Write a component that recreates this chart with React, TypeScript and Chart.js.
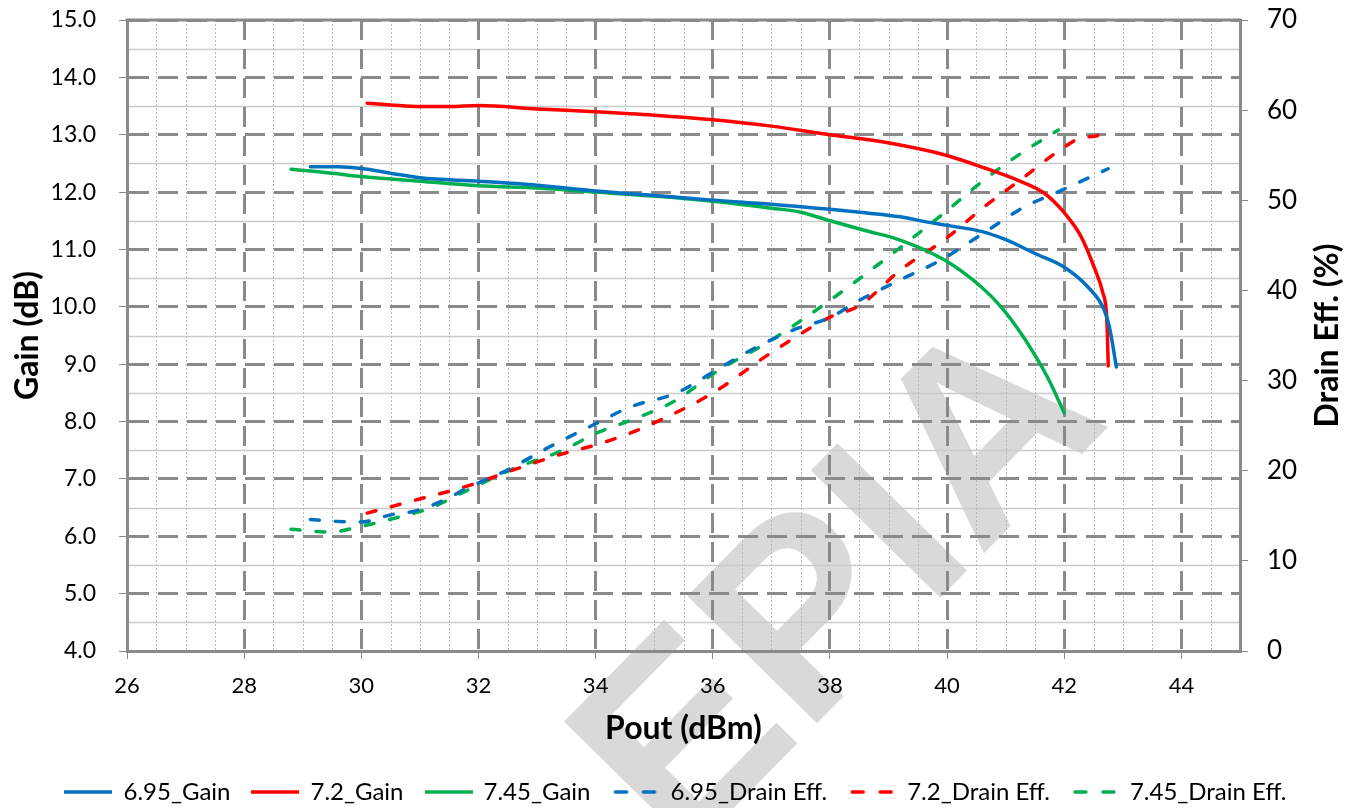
import React, { useEffect, useRef } from 'react';
import { Chart, registerables } from 'chart.js';

Chart.register(...registerables);

const FONT = "Lato, 'Open Sans', sans-serif";

// Axis ranges / ticks
const X_MIN = 26;
const X_MAX = 45;
const X_STEP = 2;
const GAIN_MIN = 4;
const GAIN_MAX = 15;
const GAIN_STEP = 1;
const EFF_MIN = 0;
const EFF_MAX = 70;
const EFF_STEP = 10;

const X_TITLE = 'Pout (dBm)';
const GAIN_TITLE = 'Gain (dB)';
const EFF_TITLE = 'Drain Eff. (%)';
const WATERMARK = 'EPIA';

const seriesNames = ['6.95_Gain', '7.2_Gain', '7.45_Gain', '6.95_Drain Eff.', '7.2_Drain Eff.', '7.45_Drain Eff.'];
const seriesColors = ['#0070C0', '#FF0000', '#00B050', '#0070C0', '#FF0000', '#00B050'];

// 6.95 GHz gain
const gain695X = [29.13, 29.6, 30.0, 30.5, 31.0, 32.0, 33.0, 34.0, 35.0, 36.0, 37.0, 38.0, 38.6, 39.2, 39.6, 40.0, 40.6, 41.0, 41.5, 42.0, 42.4, 42.68, 42.77, 42.89];
const gain695Y = [12.44, 12.44, 12.41, 12.33, 12.25, 12.19, 12.12, 12.02, 11.94, 11.86, 11.79, 11.70, 11.64, 11.57, 11.49, 11.42, 11.31, 11.17, 10.93, 10.69, 10.35, 9.95, 9.65, 8.95];

// 7.2 GHz gain
const gain72X = [30.1, 30.5, 31.0, 31.5, 32.0, 33.0, 34.0, 35.0, 36.0, 37.0, 38.0, 38.6, 39.2, 39.95, 40.64, 41.2, 41.66, 42.0, 42.29, 42.51, 42.66, 42.72, 42.74, 42.75];
const gain72Y = [13.55, 13.52, 13.49, 13.49, 13.51, 13.45, 13.40, 13.34, 13.26, 13.15, 13.00, 12.92, 12.82, 12.65, 12.42, 12.21, 11.98, 11.64, 11.22, 10.69, 10.24, 9.89, 9.40, 8.97];

// 7.45 GHz gain
const gain745X = [28.8, 29.5, 30.0, 31.0, 32.0, 33.0, 34.0, 35.0, 36.0, 37.0, 37.5, 38.0, 38.6, 39.21, 39.95, 40.58, 40.92, 41.26, 41.55, 41.74, 42.0];
const gain745Y = [12.40, 12.33, 12.27, 12.19, 12.11, 12.07, 12.00, 11.93, 11.84, 11.72, 11.65, 11.50, 11.33, 11.16, 10.82, 10.35, 10.00, 9.54, 9.07, 8.72, 8.15];

// 6.95 GHz drain efficiency
const eff695X = [29.13, 29.5, 29.98, 30.5, 30.96, 31.5, 31.75, 32.5, 33.2, 34.03, 34.6, 35.37, 36.02, 36.6, 37.37, 38.0, 38.5, 39.21, 39.9, 40.7, 41.3, 41.95, 42.75];
const eff695Y = [14.6, 14.4, 14.3, 15.1, 15.6, 17.0, 17.9, 20.1, 22.6, 25.3, 27.1, 28.6, 31.0, 33.2, 35.6, 37.0, 38.9, 41.2, 43.4, 46.7, 49.2, 51.1, 53.5];

// 7.2 GHz drain efficiency
const eff72X = [30.1, 30.96, 31.86, 32.6, 33.45, 34.02, 34.6, 35.23, 36.02, 37.0, 38.02, 38.5, 39.21, 39.95, 40.64, 41.26, 42.0, 42.32, 42.52, 42.75];
const eff72Y = [15.3, 16.8, 18.4, 20.1, 21.9, 22.9, 24.2, 26.0, 28.7, 33.1, 37.1, 38.3, 42.3, 45.6, 49.3, 52.3, 55.9, 57.0, 57.1, 57.9];

// 7.45 GHz drain efficiency
const eff745X = [28.8, 29.47, 29.98, 30.67, 30.96, 31.23, 31.74, 32.55, 33.45, 34.02, 34.6, 35.37, 36.02, 37.0, 38.0, 39.21, 39.95, 40.64, 41.26, 41.9];
const eff745Y = [13.5, 13.2, 13.8, 14.9, 15.4, 16.0, 17.6, 20.1, 22.3, 24.2, 25.6, 27.8, 30.8, 34.5, 38.9, 44.8, 48.6, 52.3, 55.2, 57.8];

const toPoints = (xs: number[], ys: number[]) => xs.map((x, i) => ({ x, y: ys[i] }));

const GRID_MAJOR = '#8a8a8a';
const FRAME = '#8a8a8a';
const LINE_W = 3.5;
const DASH = [9, 16];

function legendSample(color: string, dashed: boolean): HTMLCanvasElement {
  const c = document.createElement('canvas');
  c.width = 48;
  c.height = 8;
  const g = c.getContext('2d')!;
  g.strokeStyle = color;
  g.lineWidth = LINE_W;
  g.lineCap = 'round';
  g.beginPath();
  if (dashed) {
    g.moveTo(4, 4);
    g.lineTo(15, 4);
    g.moveTo(32, 4);
    g.lineTo(43, 4);
  } else {
    g.lineCap = 'butt';
    g.moveTo(0, 4);
    g.lineTo(48, 4);
  }
  g.stroke();
  return c;
}

export default function App() {
  const ref = useRef<HTMLCanvasElement>(null);

  useEffect(() => {
    const canvas = ref.current;
    if (!canvas) return;

    const backdrop = {
      id: 'backdrop',
      beforeDraw(chart: any) {
        const ctx = chart.ctx;
        const a = chart.chartArea;
        const x = chart.scales.x;
        const y = chart.scales.y;
        ctx.save();
        // watermark
        ctx.fillStyle = 'rgb(217,217,217)';
        ctx.font = `bold 264px 'Liberation Sans', Arial, sans-serif`;
        ctx.textAlign = 'right';
        ctx.textBaseline = 'alphabetic';
        ctx.translate(1113, 422);
        ctx.rotate((-45.5 * Math.PI) / 180);
        ctx.fillText(WATERMARK, 0, 0);
        ctx.restore();

        ctx.save();
        // minor horizontal lines (solid)
        ctx.strokeStyle = '#cacaca';
        ctx.lineWidth = 1.5;
        for (let v = GAIN_MIN + 0.5; v < GAIN_MAX; v += 1) {
          const py = Math.round(y.getPixelForValue(v)) + 0.5;
          ctx.beginPath();
          ctx.moveTo(a.left, py);
          ctx.lineTo(a.right, py);
          ctx.stroke();
        }
        // minor vertical lines (dotted)
        ctx.strokeStyle = '#b8b8b8';
        ctx.lineWidth = 1;
        ctx.setLineDash([2, 2]);
        for (let v = X_MIN + 0.5; v < X_MAX - 0.01; v += 0.5) {
          if (Math.abs(v / X_STEP - Math.round(v / X_STEP)) < 1e-6) continue;
          const px = Math.round(x.getPixelForValue(v)) + 0.5;
          ctx.beginPath();
          ctx.moveTo(px, a.top);
          ctx.lineTo(px, a.bottom);
          ctx.stroke();
        }
        ctx.restore();
      },
      beforeDatasetsDraw(chart: any) {
        const ctx = chart.ctx;
        const a = chart.chartArea;
        ctx.save();
        ctx.strokeStyle = FRAME;
        ctx.lineWidth = 3;
        ctx.beginPath();
        ctx.moveTo(a.left - 1.5, a.top);
        ctx.lineTo(a.right + 1.5, a.top);
        ctx.stroke();
        ctx.restore();
      },
      afterDraw(chart: any) {
        const ctx = chart.ctx;
        const a = chart.chartArea;
        ctx.save();
        ctx.fillStyle = '#000';
        ctx.font = `bold 32px ${FONT}`;
        ctx.textAlign = 'center';
        ctx.textBaseline = 'middle';
        ctx.translate(1328, (a.top + a.bottom) / 2);
        ctx.rotate(-Math.PI / 2);
        ctx.fillText(EFF_TITLE, 0, 0);
        ctx.restore();
      },
    };

    const gainSets = [toPoints(gain695X, gain695Y), toPoints(gain72X, gain72Y), toPoints(gain745X, gain745Y)];
    const effSets = [toPoints(eff695X, eff695Y), toPoints(eff72X, eff72Y), toPoints(eff745X, eff745Y)];

    const datasets: any[] = [];
    gainSets.forEach((d, i) => {
      datasets.push({
        label: seriesNames[i],
        data: d,
        yAxisID: 'y',
        borderColor: seriesColors[i],
        backgroundColor: seriesColors[i],
        borderWidth: LINE_W,
        pointRadius: 0,
        cubicInterpolationMode: 'monotone',
        borderCapStyle: 'round',
        pointStyle: legendSample(seriesColors[i], false),
        fill: false,
      });
    });
    effSets.forEach((d, i) => {
      datasets.push({
        label: seriesNames[i + 3],
        data: d,
        yAxisID: 'y1',
        borderColor: seriesColors[i + 3],
        backgroundColor: seriesColors[i + 3],
        borderWidth: LINE_W,
        borderDash: DASH,
        borderCapStyle: 'round',
        pointRadius: 0,
        cubicInterpolationMode: 'monotone',
        pointStyle: legendSample(seriesColors[i + 3], true),
        fill: false,
      });
    });

    const fixVertical = (w: number) => (s: any) => {
      s.width = w;
      s.paddingTop = 0;
      s.paddingBottom = 0;
    };

    const chart = new Chart(canvas, {
      type: 'line',
      data: { datasets },
      plugins: [backdrop],
      options: {
        responsive: false,
        animation: false,
        events: [],
        layout: { padding: { left: 0, right: 0, top: 20, bottom: -6 } },
        plugins: {
          tooltip: { enabled: false },
          legend: {
            position: 'bottom',
            labels: {
              usePointStyle: true,
              pointStyleWidth: 46,
              boxHeight: 3,
              padding: 22,
              color: '#000',
              font: { family: FONT, size: 24 },
            },
          },
        },
        scales: {
          x: {
            type: 'linear',
            position: 'bottom',
            min: X_MIN,
            max: X_MAX,
            afterBuildTicks: (s: any) => {
              s.ticks = s.ticks.filter((t: any) => Math.abs(t.value / X_STEP - Math.round(t.value / X_STEP)) < 1e-6);
            },
            afterFit: (s: any) => {
              s.height = 107;
            },
            ticks: {
              stepSize: X_STEP,
              padding: 14,
              color: '#000',
              font: { family: FONT, size: 22 },
            },
            grid: {
              color: GRID_MAJOR,
              lineWidth: 3,
              tickLength: 8,
              tickWidth: 1,
              tickColor: GRID_MAJOR,
            },
            border: { display: true, color: FRAME, width: 3, dash: [20, 9] },
            title: {
              display: true,
              text: X_TITLE,
              color: '#000',
              font: { family: FONT, size: 32, weight: 'bold' },
              padding: { top: 0, bottom: 10 },
            },
          },
          y: {
            type: 'linear',
            position: 'left',
            min: GAIN_MIN,
            max: GAIN_MAX,
            afterFit: fixVertical(127),
            ticks: {
              stepSize: GAIN_STEP,
              padding: 23,
              color: '#000',
              font: { family: FONT, size: 23 },
              callback: (v: any) => Number(v).toFixed(1),
            },
            grid: {
              color: GRID_MAJOR,
              lineWidth: 3,
              tickLength: 8,
              tickWidth: 1,
              tickColor: GRID_MAJOR,
            },
            border: { display: true, color: FRAME, width: 3, dash: [20, 9] },
            title: {
              display: true,
              text: GAIN_TITLE,
              color: '#000',
              font: { family: FONT, size: 32, weight: 'bold' },
              padding: { top: 8, bottom: 0 },
            },
          },
          y1: {
            type: 'linear',
            position: 'right',
            min: EFF_MIN,
            max: EFF_MAX,
            afterFit: fixVertical(112),
            ticks: {
              stepSize: EFF_STEP,
              padding: 19,
              color: '#000',
              font: { family: FONT, size: 26 },
            },
            grid: {
              drawOnChartArea: false,
              tickLength: 8,
              tickWidth: 1,
              tickColor: GRID_MAJOR,
            },
            border: { display: true, color: FRAME, width: 3 },
          },
        },
      } as any,
    });

    return () => chart.destroy();
  }, []);

  return (
    <div style={{ position: 'fixed', left: 0, top: 0, width: '1352px', height: '808px', background: '#fff' }}>
      <canvas ref={ref} width={1352} height={808} style={{ display: 'block' }} />
    </div>
  );
}
